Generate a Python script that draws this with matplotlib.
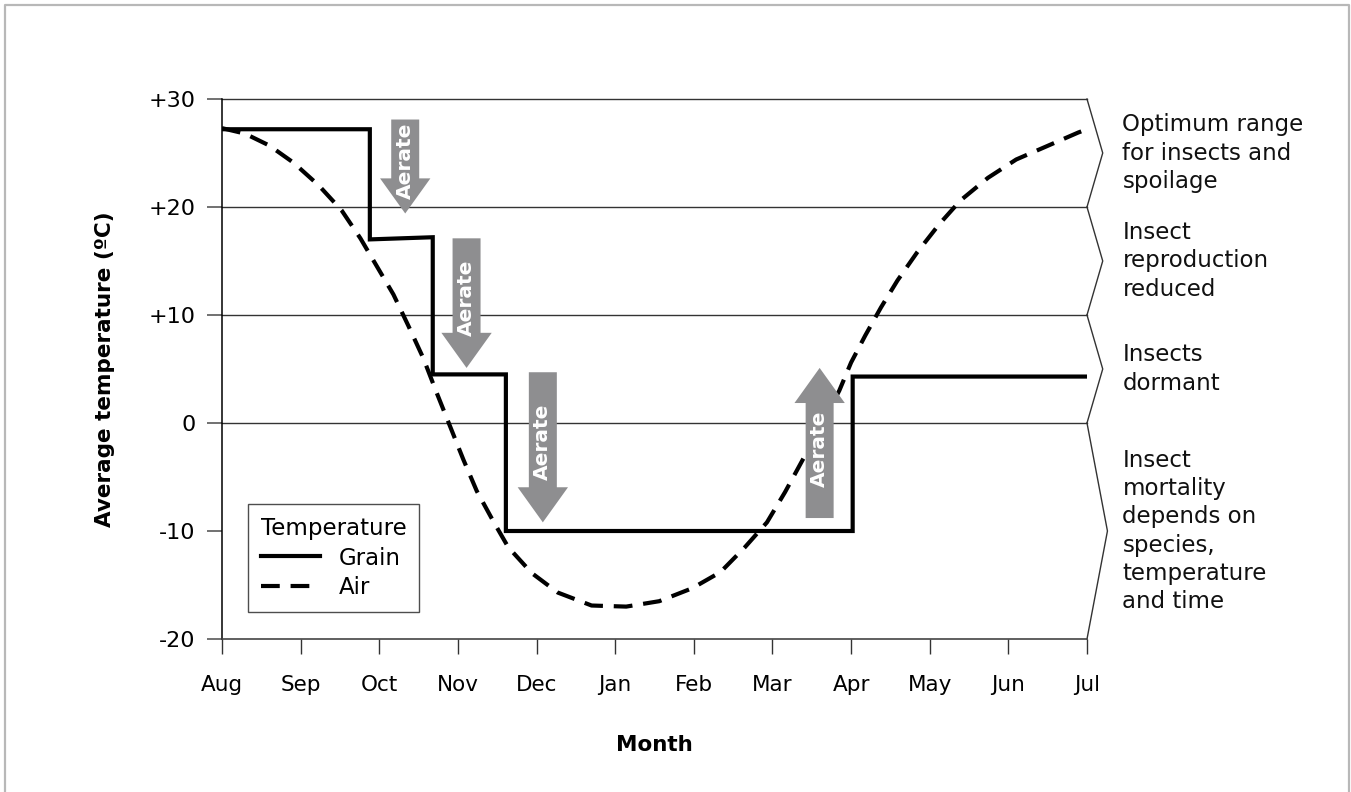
import matplotlib.pyplot as plt
from matplotlib.patches import FancyArrow
from matplotlib.lines import Line2D

# month axis (0 = Aug ... 11 = Jul)
months = ['Aug', 'Sep', 'Oct', 'Nov', 'Dec', 'Jan', 'Feb', 'Mar', 'Apr', 'May', 'Jun', 'Jul']
y_ticks = [30, 20, 10, 0, -10, -20]
y_tick_labels = ['+30', '+20', '+10', '0', '-10', '-20']

# grain temperature (step profile)
grain_x = [0, 1.88, 1.88, 2.68, 2.68, 3.61, 3.61, 8.02, 8.02, 11]
grain_t = [27.2, 27.2, 17.0, 17.2, 4.5, 4.5, -10.0, -10.0, 4.3, 4.3]

# air temperature
air_x = [0.0, 0.29, 0.6, 0.91, 1.23, 1.52, 1.76, 1.97, 2.18, 2.37, 2.56, 2.73,
         2.90, 3.07, 3.24, 3.45, 3.64, 3.94, 4.27, 4.7, 5.14, 5.56, 5.98, 6.34,
         6.65, 6.93, 7.16, 7.37, 7.6, 7.85, 8.0, 8.18, 8.38, 8.59, 8.84, 9.12,
         9.39, 9.74, 10.1, 10.48, 10.89, 11.0]
air_t = [27.3, 26.8, 25.7, 24.1, 22.0, 19.7, 17.1, 14.5, 11.9, 9.0, 6.0, 2.8,
         -0.3, -3.4, -6.3, -9.1, -11.5, -13.9, -15.7, -16.9, -17.0, -16.5, -15.3, -13.8,
         -11.5, -9.2, -6.4, -3.6, -0.5, 3.0, 5.6, 8.1, 10.7, 13.2, 15.8, 18.4,
         20.6, 22.7, 24.4, 25.6, 26.9, 27.2]

# "Aerate" arrows: x position, tail temp, tip temp
arrow_x = [2.33, 3.11, 4.08, 7.60]
arrow_from = [28.1, 17.1, 4.7, -8.8]
arrow_to = [19.4, 5.1, -9.2, 5.1]

# right hand zones
band_edges = [30, 20, 10, 0, -20]
band_labels = ['Optimum range\nfor insects and\nspoilage',
               'Insect\nreproduction\nreduced',
               'Insects\ndormant',
               'Insect\nmortality\ndepends on\nspecies,\ntemperature\nand time']

W, H = 1351, 792
fig = plt.figure(figsize=(W / 100, H / 100), dpi=100)
ax = fig.add_axes([222 / W, 1 - 639 / H, 865 / W, 540 / H])
ax.set_xlim(0, 11)
ax.set_ylim(-20, 30)

# figure frame (left, top, right)
fig.add_artist(Line2D([5 / W, 5 / W, 1349 / W, 1349 / W], [0, 1 - 5 / H, 1 - 5 / H, 0],
                      transform=fig.transFigure, color='#b8b8b8', lw=1.6))

# horizontal zone lines
for t in band_edges[:-1]:
    ax.axhline(t, color='#333333', lw=1.0, zorder=1, clip_on=False)

# chevrons on the right
depth = [0.2, 0.2, 0.2, 0.26]
for i in range(len(band_labels)):
    hi, lo = band_edges[i], band_edges[i + 1]
    mid = (hi + lo) / 2
    ax.plot([11, 11 + depth[i], 11], [hi, mid, lo], color='#333333', lw=1.0, clip_on=False)
    ax.text(11.45, mid, band_labels[i], ha='left', va='center', fontsize=16.5,
            linespacing=1.28, color='#111111')

# lines
ax.plot(grain_x, grain_t, color='black', lw=3.0, solid_joinstyle='miter', label='Grain', zorder=3)
ax.plot(air_x, air_t, color='black', lw=3.0, dashes=(4.5, 2.6), label='Air', zorder=3)

# arrows
for x, a, b in zip(arrow_x, arrow_from, arrow_to):
    ax.add_patch(FancyArrow(x, a, 0, b - a, width=0.356, head_width=0.64, head_length=3.25,
                            length_includes_head=True, color='#8e8e90', lw=0, zorder=4))
    mid = (a + b) / 2 + (0.5 if b < a else -0.5)
    ax.text(x, mid, 'Aerate', rotation=90, ha='center', va='center', color='white',
            fontsize=14.5, fontweight='bold', zorder=5)

# axes styling
for s in ['top', 'right']:
    ax.spines[s].set_visible(False)
ax.spines['left'].set_color('black')
ax.spines['left'].set_linewidth(1.1)
ax.spines['bottom'].set_color('#444444')
ax.spines['bottom'].set_linewidth(1.2)

ax.set_xticks(range(12))
ax.set_xticklabels(months, fontsize=15.5)
ax.set_yticks(y_ticks)
ax.set_yticklabels(y_tick_labels, fontsize=16)
ax.tick_params(axis='x', length=11, width=1.0, color='#333333', pad=15)
ax.tick_params(axis='y', length=11, width=1.3, color='#666666', pad=8)

leg = ax.legend(title='Temperature', loc='lower left', bbox_to_anchor=(0.03, 0.05),
                borderaxespad=0, fontsize=16.5, title_fontsize=16.5, frameon=True,
                fancybox=False, edgecolor='#222222', handlelength=2.6,
                labelspacing=0.3, alignment='left', borderpad=0.55, handletextpad=0.8)
leg.get_frame().set_linewidth(1.0)

fig.text(105 / W, 1 - 369 / H, 'Average temperature (ºC)', rotation=90, ha='center',
         va='center', fontsize=15.5, fontweight='bold')
fig.text(654.5 / W, 1 - 745 / H, 'Month', ha='center', va='center', fontsize=15.5,
         fontweight='bold')

fig.savefig('out.png', dpi=100, facecolor='white')
